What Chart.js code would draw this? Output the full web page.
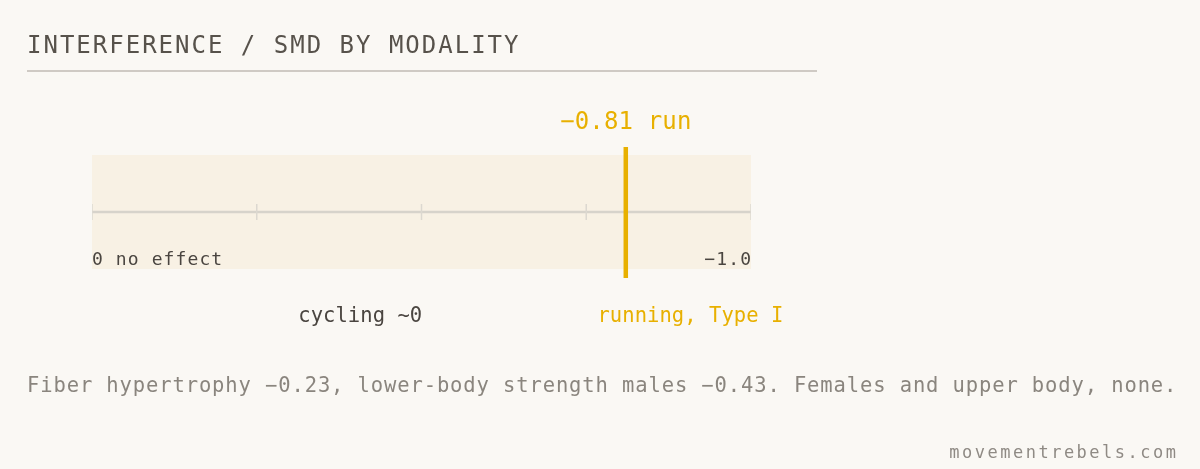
<!DOCTYPE html>
<html>
<head>
<meta charset="utf-8">
<script src="https://cdn.jsdelivr.net/npm/chart.js@4.4.1/dist/chart.umd.min.js"></script>
<style>
  html, body { margin: 0; padding: 0; background: #FAF8F4; }
  #wrap { position: relative; width: 1200px; height: 469px; }
</style>
</head>
<body>
<div id="wrap"><canvas id="smdChart" width="1200" height="469"></canvas></div>
<script>
// data
const scaleMin = -1.0;
const scaleMax = 0;
const tickValues = [0, -0.25, -0.5, -0.75, -1.0];
const modalities = ['cycling', 'running'];
const modalityLabels = ['cycling ~0', 'running, Type I'];
const modalitySmd = [0, -0.81];
const labelAnchors = [-0.407, -0.908]; // where the caption sits under the scale
const markerText = '\u22120.81 run';
const endLabels = ['0 no effect', '\u22121.0'];

const yellow = '#E8B000';
const mono = '"DejaVu Sans Mono", monospace';
const runIdx = modalities.indexOf('running');

// letterSpacing adds a trailing gap, so shift centred / right aligned text
function spacedText(ctx, text, x, y, align, spacing) {
    ctx.letterSpacing = spacing + 'px';
    ctx.textAlign = align;
    let dx = 0;
    if (align === 'center') dx = spacing / 2;
    if (align === 'right') dx = spacing;
    ctx.fillText(text, x + dx, y);
}

const textPlugin = {
    id: 'texts',
    beforeDraw(chart) {
        const ctx = chart.ctx;
        ctx.save();
        ctx.fillStyle = '#FAF8F4';
        ctx.fillRect(0, 0, chart.width, chart.height);
        ctx.restore();
    },
    afterDatasetsDraw(chart) {
        const ctx = chart.ctx;
        const x = chart.scales.x;
        ctx.save();
        ctx.textBaseline = 'alphabetic';

        // title + rule
        ctx.font = '24px ' + mono;
        ctx.fillStyle = '#57524B';
        spacedText(ctx, 'INTERFERENCE / SMD BY MODALITY', 27, 52.5, 'left', 2.0);
        ctx.fillStyle = '#CFCAC4';
        ctx.fillRect(27, 70, 790, 2);

        // value above marker
        ctx.font = '24px ' + mono;
        ctx.fillStyle = yellow;
        spacedText(ctx, markerText, x.getPixelForValue(modalitySmd[runIdx]), 129, 'center', 0.15);

        // end labels
        ctx.font = '18px ' + mono;
        ctx.fillStyle = '#4A4540';
        spacedText(ctx, endLabels[0], x.getPixelForValue(scaleMax), 265, 'left', 1.1);
        spacedText(ctx, endLabels[1], x.getPixelForValue(scaleMin), 265, 'right', 1.1);

        // modality captions
        ctx.font = '20.5px ' + mono;
        modalityLabels.forEach((lbl, i) => {
            ctx.fillStyle = modalities[i] === 'running' ? yellow : '#4A4540';
            spacedText(ctx, lbl, x.getPixelForValue(labelAnchors[i]), 322, 'center', 0.05);
        });

        // footnote
        ctx.font = '20.5px ' + mono;
        ctx.fillStyle = '#8A857E';
        spacedText(ctx, 'Fiber hypertrophy \u22120.23, lower-body strength males \u22120.43. Females and upper body, none.', 27, 392, 'left', 0.88);

        ctx.font = '17px ' + mono;
        ctx.fillStyle = '#8F8A84';
        spacedText(ctx, 'movementrebels.com', 1176, 458, 'right', 2.5);
        ctx.restore();
    }
};

const ctx = document.getElementById('smdChart');
new Chart(ctx, {
    type: 'line',
    data: {
        datasets: [
            {
                // pale band behind the scale
                data: [{ x: scaleMax, y: 1 }, { x: scaleMin, y: 1 }],
                fill: 'start',
                backgroundColor: '#F8F1E4',
                borderWidth: 0,
                pointRadius: 0,
                order: 4
            },
            {
                // axis line
                data: [{ x: scaleMax, y: 0.5 }, { x: scaleMin, y: 0.5 }],
                borderColor: '#D7D3CB',
                borderWidth: 2.5,
                pointRadius: 0,
                order: 3
            },
            {
                // tick marks
                type: 'scatter',
                data: tickValues.map(v => ({ x: v, y: 0.5 })),
                pointStyle: 'line',
                rotation: 90,
                radius: 8,
                borderColor: '#DCD8D0',
                borderWidth: 1.5,
                order: 2
            },
            {
                // running marker
                data: [{ x: modalitySmd[runIdx], y: -0.08 }, { x: modalitySmd[runIdx], y: 1.07 }],
                borderColor: yellow,
                borderWidth: 4.5,
                pointRadius: 0,
                clip: false,
                order: 1
            }
        ]
    },
    options: {
        responsive: false,
        animation: false,
        layout: { padding: { left: 92, right: 449, top: 155, bottom: 200 } },
        plugins: { legend: { display: false }, tooltip: { enabled: false } },
        scales: {
            x: { type: 'linear', min: scaleMin, max: scaleMax, reverse: true, display: false },
            y: { type: 'linear', min: 0, max: 1, display: false }
        }
    },
    plugins: [textPlugin]
});
</script>
</body>
</html>
